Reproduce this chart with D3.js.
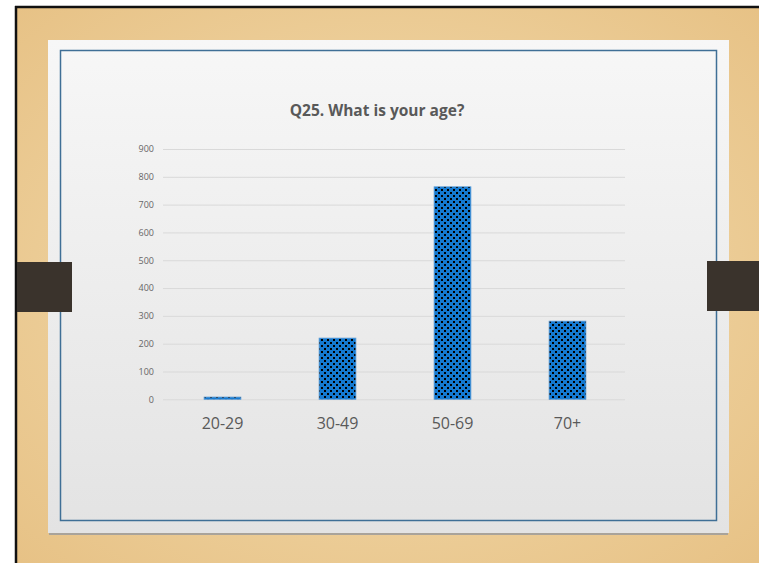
<!DOCTYPE html>
<html>
<head>
<meta charset="utf-8">
<script src="https://cdn.jsdelivr.net/npm/d3@7"></script>
<style>
  html, body { margin: 0; padding: 0; background: #fff; }
  svg { display: block; }
</style>
</head>
<body>
<svg id="chart" width="759" height="563"></svg>
<script>
const categories = ["20-29", "30-49", "50-69", "70+"];
const counts = [8, 220, 764, 281];
const yTicks = [0, 100, 200, 300, 400, 500, 600, 700, 800, 900];
const chartTitle = "Q25. What is your age?";

const svg = d3.select("#chart");
const defs = svg.append("defs");

// wood background
const wood = defs.append("radialGradient").attr("id", "wood")
    .attr("cx", "50%").attr("cy", "50%").attr("r", "70%");
wood.append("stop").attr("offset", "0%").attr("stop-color", "#f4deb2");
wood.append("stop").attr("offset", "100%").attr("stop-color", "#e7c286");

const paper = defs.append("linearGradient").attr("id", "paper")
    .attr("x1", 0).attr("y1", 0).attr("x2", 0).attr("y2", 1);
paper.append("stop").attr("offset", "0%").attr("stop-color", "#f7f7f7");
paper.append("stop").attr("offset", "100%").attr("stop-color", "#e3e3e3");

const checker = defs.append("pattern").attr("id", "checker")
    .attr("patternUnits", "userSpaceOnUse").attr("width", 6).attr("height", 6);
checker.append("rect").attr("width", 6).attr("height", 6).attr("fill", "#1479d0");
checker.append("rect").attr("x", 0).attr("y", 0).attr("width", 2).attr("height", 2).attr("fill", "#000");
checker.append("rect").attr("x", 3).attr("y", 3).attr("width", 2).attr("height", 2).attr("fill", "#000");

svg.append("rect").attr("x", 15).attr("y", 6).attr("width", 744).attr("height", 557).attr("fill", "url(#wood)");
svg.append("line").attr("x1", 15).attr("x2", 759).attr("y1", 7).attr("y2", 7)
    .attr("stroke", "#111").attr("stroke-width", 2.5);
svg.append("line").attr("x1", 16).attr("x2", 16).attr("y1", 6).attr("y2", 563)
    .attr("stroke", "#111").attr("stroke-width", 2.5);

// slide
svg.append("rect").attr("x", 49).attr("y", 533).attr("width", 679).attr("height", 2).attr("fill", "#a9a39a");
svg.append("rect").attr("x", 48).attr("y", 40).attr("width", 681).attr("height", 493).attr("fill", "url(#paper)");
svg.append("rect").attr("x", 60.5).attr("y", 50.5).attr("width", 656).attr("height", 470)
    .attr("fill", "none").attr("stroke", "#3f6f96").attr("stroke-width", 1.5);

// side tabs
svg.append("rect").attr("x", 17).attr("y", 262).attr("width", 55).attr("height", 50).attr("fill", "#3a332c");
svg.append("rect").attr("x", 707).attr("y", 261).attr("width", 52).attr("height", 50).attr("fill", "#3a332c");

// chart
const x = d3.scaleBand().domain(categories).range([165, 625]).paddingInner(0.68).paddingOuter(0.34);
const y = d3.scaleLinear().domain([0, 900]).range([399.3, 149]);

svg.append("text")
    .attr("x", 377).attr("y", 116)
    .attr("text-anchor", "middle")
    .attr("font-family", "'Open Sans', Lato, sans-serif")
    .attr("font-weight", "bold")
    .attr("font-size", 15.5)
    .attr("fill", "#595959")
    .text(chartTitle);

const yAxis = svg.append("g")
    .attr("transform", "translate(163,0)")
    .call(d3.axisLeft(y).tickValues(yTicks).tickSize(-462).tickPadding(9));
yAxis.select(".domain").remove();
yAxis.selectAll(".tick line").attr("stroke", "#d9d9d9").attr("stroke-width", 1);
yAxis.selectAll(".tick text")
    .attr("font-family", "'Open Sans', Lato, sans-serif")
    .attr("font-size", 9)
    .attr("fill", "#666");

svg.selectAll(".bar")
    .data(categories)
    .enter().append("rect")
    .attr("class", "bar")
    .attr("x", d => x(d))
    .attr("width", x.bandwidth())
    .attr("y", (d, i) => y(counts[i]))
    .attr("height", (d, i) => y(0) - y(counts[i]))
    .attr("fill", "url(#checker)")
    .attr("stroke", "#5b9bd5")
    .attr("stroke-width", 0.8);

const xAxis = svg.append("g")
    .attr("transform", "translate(0,399.3)")
    .call(d3.axisBottom(x).tickSize(0).tickPadding(18));
xAxis.select(".domain").remove();
xAxis.selectAll(".tick text")
    .attr("font-family", "'Open Sans', Lato, sans-serif")
    .attr("font-size", 16)
    .attr("fill", "#595959");
</script>
</body>
</html>
